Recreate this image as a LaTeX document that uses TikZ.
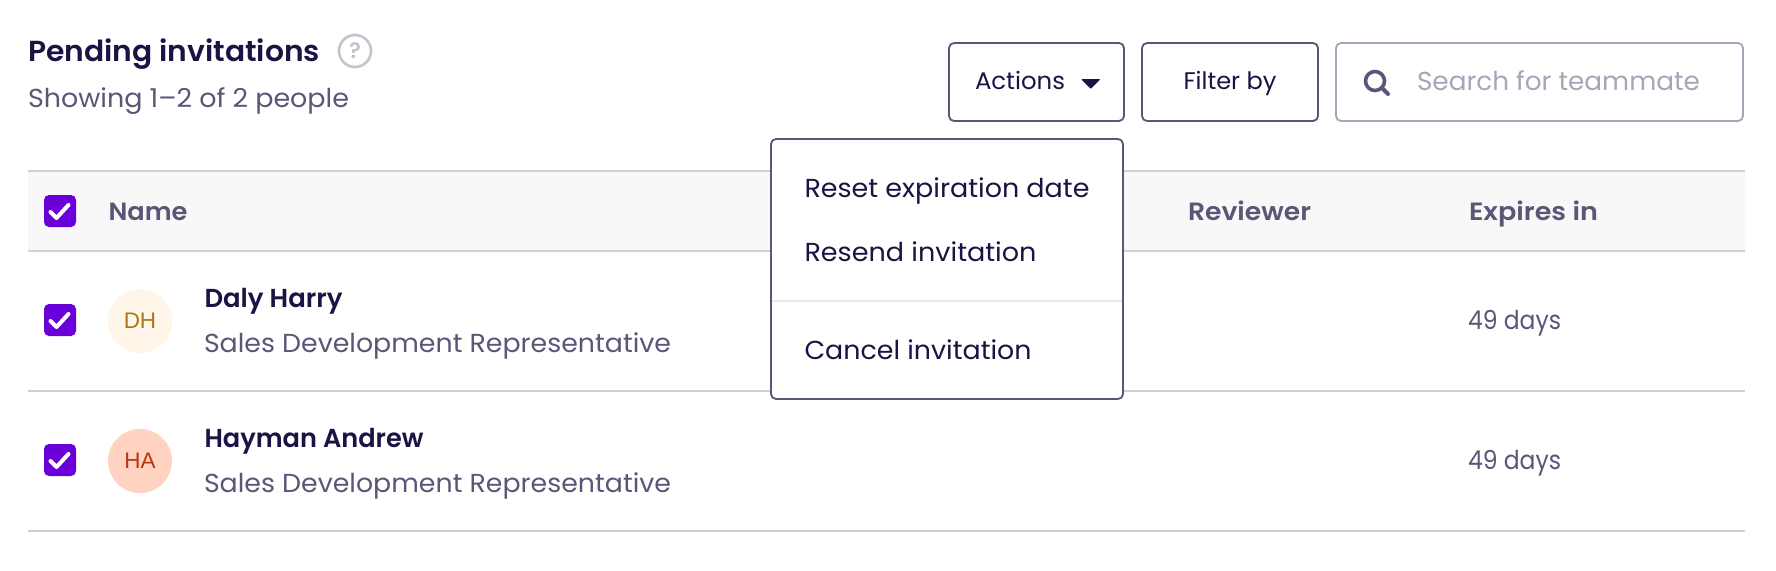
\documentclass[tikz,border=0pt]{standalone}
\usepackage{graphicx}
\usepackage{fontspec}
\setmainfont{Poppins}
\newfontfamily\medfont{Poppins SemiBold}
\newfontfamily\initfont{Liberation Sans}
\definecolor{ink}{HTML}{1C1344}
\definecolor{slate}{HTML}{5C5578}
\definecolor{faint}{HTML}{A8A5B8}
\definecolor{rule}{HTML}{D0CFD7}
\definecolor{purp}{HTML}{6A00D9}
\definecolor{hdr}{HTML}{F8F8F8}
\definecolor{helpc}{HTML}{C2C6CC}
\definecolor{dhbg}{HTML}{FFF6E9}
\definecolor{dhfg}{HTML}{A87A1A}
\definecolor{habg}{HTML}{FFD2C2}
\definecolor{hafg}{HTML}{B8350E}
\newcommand{\fitw}[3]{\resizebox{#1pt}{\height}{\fontsize{#2pt}{#2pt}\selectfont #3}}
\tikzset{
  lbl/.style={anchor=base west,inner sep=0pt,outer sep=0pt},
  btn/.style={draw=slate,line width=1.8pt,rounded corners=5pt,fill=white},
  hline/.style={draw=rule,line width=1.5pt},
  cbox/.style={fill=purp,rounded corners=5pt},
  tick/.style={draw=white,line width=4pt,line cap=round,line join=round},
  avatar/.style={circle,minimum size=64pt,inner sep=0pt,font=\initfont\fontsize{22.5}{22.5}\selectfont},
}
\newcommand{\checkbox}[3]{%
  \path[cbox] (#2-16,#3-16) rectangle (#2+16,#3+16);
  \node[inner sep=0pt,minimum size=32pt] (#1) at (#2,#3) {};
  \draw[tick] (#2-9.5,#3+1) -- (#2-3.5,#3+7) -- (#2+8.5,#3-6);
}
\begin{document}
\begin{tikzpicture}[x=1pt,y=-1pt]
\useasboundingbox (0,0) rectangle (1776,570);
\fill[white] (0,0) rectangle (1776,570);
% heading
\node[lbl,text=ink] (title) at (28,61) {\fitw{292}{29}{\medfont Pending invitations}};
\node[circle,draw=helpc,line width=2.6pt,minimum size=32pt,inner sep=0pt,text=helpc,font=\medfont\fontsize{22}{22}\selectfont] (help) at (355,51) {?};
\node[lbl,text=slate] (showing) at (28,107) {\fitw{321}{26}{Showing 1–2 of 2 people}};
% table
\fill[hdr] (28,171) rectangle (1745,251);
\draw[hline] (28,171) -- (1745,171);
\draw[hline] (28,251) -- (1745,251);
\draw[hline] (28,391) -- (1745,391);
\draw[hline] (28,531) -- (1745,531);
\checkbox{cb0}{60}{211}
\checkbox{cb1}{60}{320}
\checkbox{cb2}{60}{460}
\node[lbl,text=slate] (hname) at (108.5,220) {\fitw{79}{25}{\medfont Name}};
\node[lbl,text=slate] (hrev) at (1188,220) {\fitw{123}{25}{\medfont Reviewer}};
\node[lbl,text=slate] (hexp) at (1469,220) {\fitw{129}{25}{\medfont Expires in}};
% row 1
\node[avatar,fill=dhbg,text=dhfg] (av1) at (140,321) {DH};
\node[lbl,text=ink] (n1) at (204.5,307) {\fitw{138}{26}{\medfont Daly Harry}};
\node[lbl,text=slate] (r1) at (204,352) {\fitw{467}{26}{Sales Development Representative}};
\node[lbl,text=slate] (d1) at (1468,329) {\fitw{93}{26}{49 days}};
% row 2
\node[avatar,fill=habg,text=hafg] (av2) at (140,461) {HA};
\node[lbl,text=ink] (n2) at (204.5,447) {\fitw{219}{26}{\medfont Hayman Andrew}};
\node[lbl,text=slate] (r2) at (204,492) {\fitw{467}{26}{Sales Development Representative}};
\node[lbl,text=slate] (d2) at (1468,469) {\fitw{93}{26}{49 days}};
% buttons
\path[btn] (949,43) rectangle (1124,121);
\node[lbl,text=ink] (act) at (975,89) {\fitw{90}{24}{Actions}};
\fill[ink,rounded corners=1pt] (1081,79) -- (1100.5,79) -- (1090.7,89) -- cycle;
\path[btn] (1142,43) rectangle (1318,121);
\node[lbl,text=ink] (filt) at (1183.5,89) {\fitw{93}{24}{Filter by}};
\path[btn,draw=faint] (1336,43) rectangle (1743,121);
\draw[slate,line width=3.6pt] (1375,81) circle (9.5pt);
\draw[slate,line width=4pt,line cap=round] (1382,88) -- (1388,94);
\node[lbl,text=faint] (srch) at (1417,90) {\fitw{283}{26}{Search for teammate}};
% menu
\path[btn] (771,139) rectangle (1123,399);
\draw[draw=rule!50!white,line width=1.2pt] (772,301) -- (1122,301);
\node[lbl,text=ink] (m1) at (804.5,197) {\fitw{285}{26}{Reset expiration date}};
\node[lbl,text=ink] (m2) at (804.5,261) {\fitw{232}{26}{Resend invitation}};
\node[lbl,text=ink] (m3) at (804.5,359) {\fitw{227}{26}{Cancel invitation}};
\end{tikzpicture}
\end{document}
